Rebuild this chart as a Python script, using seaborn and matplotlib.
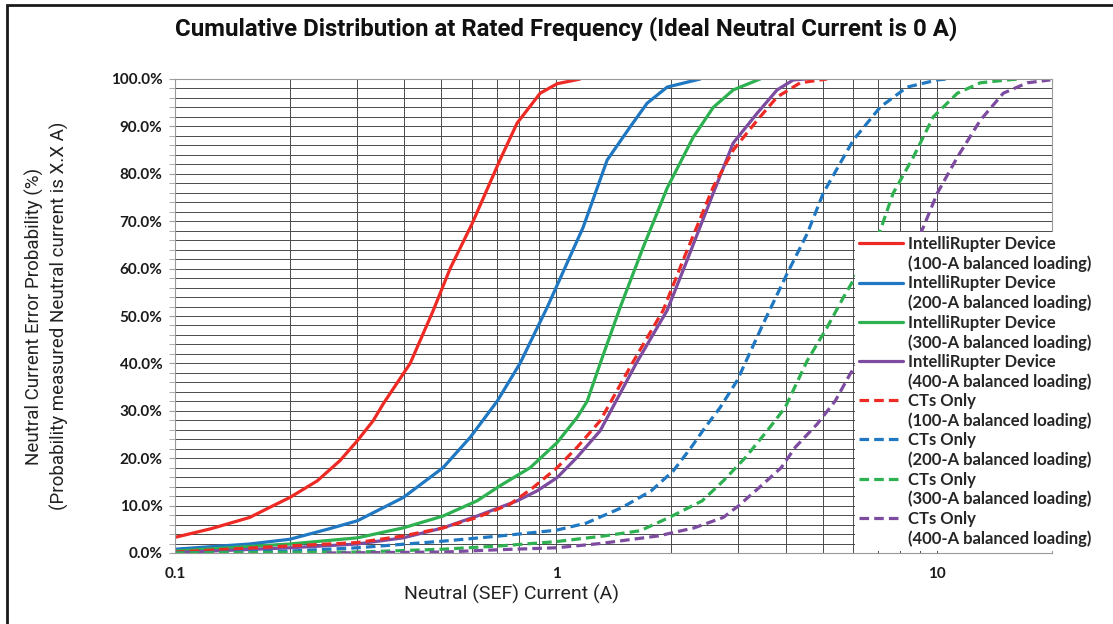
import matplotlib
matplotlib.use('Agg')
import matplotlib.pyplot as plt
import matplotlib.ticker as mticker
from matplotlib.lines import Line2D
from matplotlib.patches import Rectangle
import seaborn as sns

# plot setting
sns.set_style('white')
plt.rcParams['font.family'] = ['Lato', 'DejaVu Sans']
plt.rcParams['font.weight'] = 'bold'

# --- data (x = neutral current in A, y = cumulative %) ---
ir100_x = [0.1, 0.124, 0.157, 0.178, 0.2, 0.236, 0.271, 0.301, 0.331, 0.352, 0.414, 0.475, 0.527, 0.602, 0.713, 0.79, 0.908, 1.006, 1.156]
ir100_y = [3.3, 5.1, 7.5, 9.7, 11.7, 15.2, 19.5, 23.7, 27.9, 31.5, 40.0, 51.0, 60.0, 69.5, 83.0, 90.7, 97.0, 99.0, 100.0]

ir200_x = [0.1, 0.157, 0.2, 0.251, 0.301, 0.397, 0.505, 0.595, 0.70, 0.804, 0.947, 1.177, 1.361, 1.564, 1.733, 1.956, 2.388]
ir200_y = [0.8, 1.9, 2.9, 5.0, 6.8, 11.7, 18.0, 24.4, 32.0, 40.0, 51.8, 68.7, 82.9, 89.9, 94.9, 98.3, 100.0]

ir300_x = [0.1, 0.2, 0.301, 0.397, 0.505, 0.62, 0.713, 0.855, 1.006, 1.135, 1.206, 1.305, 1.472, 1.692, 1.956, 2.289, 2.583, 2.915, 3.43]
ir300_y = [0.4, 1.9, 3.2, 5.3, 7.8, 11.0, 14.2, 18.0, 23.3, 28.6, 32.0, 40.0, 51.8, 64.5, 77.0, 87.7, 94.0, 97.7, 100.0]

ir400_x = [0.1, 0.2, 0.301, 0.397, 0.505, 0.62, 0.79, 0.891, 1.006, 1.135, 1.305, 1.622, 1.956, 2.207, 2.583, 2.915, 3.37, 3.80, 4.19, 4.50]
ir400_y = [0.1, 1.1, 1.9, 3.2, 5.3, 7.8, 11.0, 13.1, 15.9, 20.2, 25.8, 40.0, 51.2, 61.8, 75.9, 86.5, 92.8, 97.7, 99.8, 100.0]

ct100_x = [0.1, 0.2, 0.301, 0.397, 0.505, 0.62, 0.757, 0.87, 1.006, 1.135, 1.305, 1.583, 1.909, 2.154, 2.583, 2.915, 3.37, 3.80, 4.37, 5.14]
ct100_y = [0.2, 1.5, 2.2, 3.6, 5.3, 7.5, 10.3, 13.8, 18.0, 22.3, 27.9, 40.0, 51.2, 61.8, 77.2, 85.0, 91.3, 96.2, 99.2, 100.0]

ct200_x = [0.1, 0.2, 0.301, 0.505, 0.713, 1.0, 1.199, 1.49, 1.775, 2.028, 2.262, 2.46, 2.694, 2.986, 3.495, 4.04, 4.56, 5.02, 6.02, 7.09, 8.34, 10.0, 10.6]
ct200_y = [0.0, 0.4, 1.1, 2.5, 3.6, 4.8, 6.3, 9.6, 13.1, 17.3, 22.3, 26.5, 30.7, 36.4, 48.4, 59.0, 67.4, 75.9, 87.1, 94.1, 98.3, 99.8, 100.0]

ct300_x = [0.1, 0.301, 0.505, 0.713, 1.0, 1.336, 1.662, 1.98, 2.416, 2.744, 3.134, 3.58, 3.99, 4.56, 5.14, 5.67, 6.17, 7.09, 7.66, 8.65, 9.76, 11.29, 12.97, 15.27, 16.5]
ct300_y = [0.0, 0.2, 0.8, 1.5, 2.4, 3.6, 4.7, 7.5, 11.0, 15.2, 20.1, 25.8, 30.7, 40.6, 47.6, 53.9, 59.0, 68.1, 75.9, 83.5, 92.0, 97.0, 99.2, 99.8, 100.0]

ct400_x = [0.25, 0.505, 0.713, 1.0, 1.305, 1.853, 2.302, 2.744, 3.004, 3.41, 3.895, 4.24, 4.84, 5.40, 5.91, 6.17, 9.19, 10.0, 11.29, 12.97, 14.9, 17.23, 19.8]
ct400_y = [0.0, 0.2, 0.7, 1.1, 2.0, 3.6, 5.3, 7.5, 9.9, 13.8, 18.0, 22.3, 27.2, 32.1, 37.8, 40.0, 68.7, 75.9, 83.5, 91.3, 97.0, 99.2, 99.8]

loads = ['100', '200', '300', '400']
colors = ['#ee2a24', '#1f78c1', '#2eb150', '#7d4ca0']
dashed = (0, (3, 1.6))

series = [
    ('IntelliRupter Device', loads[0], ir100_x, ir100_y, colors[0], '-'),
    ('IntelliRupter Device', loads[1], ir200_x, ir200_y, colors[1], '-'),
    ('IntelliRupter Device', loads[2], ir300_x, ir300_y, colors[2], '-'),
    ('IntelliRupter Device', loads[3], ir400_x, ir400_y, colors[3], '-'),
    ('CTs Only', loads[0], ct100_x, ct100_y, colors[0], dashed),
    ('CTs Only', loads[1], ct200_x, ct200_y, colors[1], dashed),
    ('CTs Only', loads[2], ct300_x, ct300_y, colors[2], dashed),
    ('CTs Only', loads[3], ct400_x, ct400_y, colors[3], dashed),
]

fig = plt.figure(figsize=(11.13, 6.24), dpi=100)
ax = fig.add_axes([175/1113, 1 - 553/624, 877/1113, 474/624])

for name, load, xs, ys, c, ls in series:
    sns.lineplot(x=xs, y=ys, ax=ax, color=c, linewidth=2.3, linestyle=ls,
                 sort=False, estimator=None, legend=False)

# axes + grid
ax.set_xscale('log')
ax.set_xlim(0.1, 20)
ax.set_ylim(0, 100)
ax.xaxis.set_major_locator(mticker.FixedLocator([0.1, 1, 10]))
ax.xaxis.set_minor_locator(mticker.LogLocator(base=10, subs=range(2, 10)))
ax.xaxis.set_major_formatter(mticker.FuncFormatter(lambda v, _: f'{v:g}'))
ax.xaxis.set_minor_formatter(mticker.NullFormatter())
ax.yaxis.set_major_locator(mticker.MultipleLocator(10))
ax.yaxis.set_minor_locator(mticker.MultipleLocator(2))
ax.yaxis.set_major_formatter(mticker.FuncFormatter(lambda v, _: f'{v:.1f}%'))
ax.grid(which='both', color='#4a4a4a', linewidth=0.7)
ax.set_axisbelow(True)
ax.tick_params(axis='x', which='both', length=0, pad=10, labelsize=11, colors='#1a1a1a')
ax.tick_params(axis='y', which='both', length=4, color='#a0a0a0', left=True, pad=5, labelsize=11, labelcolor='#1a1a1a')
for s in ax.spines.values():
    s.set_color('#9a9a9a')
    s.set_linewidth(0.8)

# labels
ax.set_xlabel('Neutral (SEF) Current (A)', family='Roboto', fontsize=14, fontweight='normal', color='#222222')
ax.xaxis.set_label_coords(0.384, -0.068)
ax.set_ylabel('Neutral Current Error Probability (%)\n(Probability measured Neutral current is X.X A)',
              family='Roboto', fontsize=13.5, fontweight='normal', color='#222222', linespacing=1.35, va='center')
ax.yaxis.set_label_coords(-0.146, 0.5)
fig.text(566/1113, 1 - 29/624, 'Cumulative Distribution at Rated Frequency (Ideal Neutral Current is 0 A)',
         ha='center', va='center', family='Roboto', fontsize=17.3, fontweight='bold', color='#111111')

# legend: two rows per series, second row has no line
handles, labels = [], []
for name, load, xs, ys, c, ls in series:
    handles.append(Line2D([0], [0], color=c, linewidth=2.3, linestyle=ls))
    handles.append(Line2D([0], [0], color='none'))
    labels.append(name)
    labels.append(f'({load}-A balanced loading)')
ax.legend(handles, labels, loc='upper left', bbox_to_anchor=(855/1113, 1 - 232/624),
          bbox_transform=fig.transFigure, frameon=True, fancybox=False, edgecolor='none',
          facecolor='white', framealpha=1, fontsize=12, labelspacing=0.2, handlelength=2.6,
          handletextpad=0.3, borderpad=0.25, borderaxespad=0)

# outer frame of the figure
fig.patches.append(Rectangle((7/1113, -0.1), 1.2, 1.1 - 5/624, transform=fig.transFigure,
                             fill=False, edgecolor='#1a1a1a', linewidth=2))

plt.savefig('out.png', dpi=100)
plt.close()
